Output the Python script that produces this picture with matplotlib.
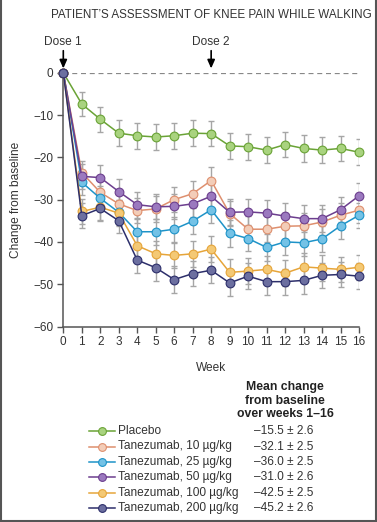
import matplotlib
matplotlib.use("Agg")
import matplotlib.pyplot as plt
from matplotlib.lines import Line2D

plt.rcParams['font.family'] = ['Liberation Sans', 'DejaVu Sans']

weeks = list(range(0, 17))

placebo = [0, -7.4, -11.0, -14.3, -14.9, -15.2, -14.9, -14.3, -14.4, -17.3, -17.5, -18.3, -17.0, -17.9, -18.3, -17.9, -18.8]
tan10 = [0, -23.6, -28.3, -31.0, -32.6, -32.2, -30.0, -28.6, -25.5, -33.3, -37.0, -37.0, -36.3, -36.2, -35.3, -33.7, -32.5]
tan25 = [0, -25.9, -29.7, -33.0, -37.6, -37.6, -37.0, -35.1, -32.4, -38.0, -39.2, -41.3, -40.0, -40.2, -39.3, -36.2, -33.7]
tan50 = [0, -24.5, -24.8, -28.1, -31.2, -31.7, -31.6, -31.0, -29.2, -33.0, -32.9, -33.2, -33.9, -34.5, -34.5, -32.4, -29.1]
tan100 = [0, -32.8, -31.8, -33.2, -40.9, -42.8, -43.2, -42.8, -41.7, -47.2, -46.9, -46.5, -47.4, -45.9, -46.2, -46.5, -46.0]
tan200 = [0, -33.8, -32.1, -35.0, -44.3, -46.1, -48.9, -47.5, -46.7, -49.7, -48.1, -49.4, -49.4, -49.1, -47.9, -47.7, -48.1]

se_placebo = [0, 2.9, 3.0, 3.0, 3.1, 3.0, 3.1, 3.0, 2.9, 3.0, 3.1, 3.1, 3.0, 3.1, 3.1, 3.0, 3.1]
se_tan10 = [0, 2.8, 2.9, 3.0, 3.0, 3.1, 3.0, 3.0, 3.1, 3.0, 3.1, 3.1, 3.1, 3.1, 3.0, 3.0, 3.0]
se_tan25 = [0, 2.9, 3.0, 3.0, 3.1, 3.1, 3.0, 3.0, 3.1, 3.1, 3.0, 3.1, 3.1, 3.1, 3.0, 3.0, 3.0]
se_tan50 = [0, 2.9, 3.0, 3.0, 3.1, 3.0, 3.0, 3.1, 3.0, 3.1, 3.1, 3.1, 3.1, 3.2, 3.2, 3.0, 3.0]
se_tan100 = [0, 2.9, 3.0, 3.0, 3.1, 3.0, 3.0, 3.1, 3.1, 3.1, 3.1, 3.1, 3.1, 3.2, 3.1, 3.0, 3.0]
se_tan200 = [0, 2.9, 3.0, 3.0, 3.1, 3.1, 3.1, 3.0, 3.1, 3.1, 3.1, 3.1, 3.1, 3.2, 3.0, 3.0, 3.0]

labels = ["Placebo", "Tanezumab, 10 \u00b5g/kg", "Tanezumab, 25 \u00b5g/kg",
          "Tanezumab, 50 \u00b5g/kg", "Tanezumab, 100 \u00b5g/kg", "Tanezumab, 200 \u00b5g/kg"]
mean_change = ["\u201315.5 \u00b1 2.6", "\u201332.1 \u00b1 2.5", "\u201336.0 \u00b1 2.5",
               "\u201331.0 \u00b1 2.6", "\u201342.5 \u00b1 2.5", "\u201345.2 \u00b1 2.6"]

series = [placebo, tan10, tan25, tan50, tan100, tan200]
errors = [se_placebo, se_tan10, se_tan25, se_tan50, se_tan100, se_tan200]
line_colors = ["#6aa336", "#de8f6e", "#1e93c8", "#6c3e8e", "#e6a53a", "#2d2f6b"]
face_colors = ["#a9d37f", "#f3cdb8", "#74c2e6", "#9b79bf", "#f4c975", "#6c6fa0"]

W, H = 377, 522
fig = plt.figure(figsize=(W / 100, H / 100), dpi=100)
ax = fig.add_axes([63.3 / W, (H - 326.5) / H, (359 - 63.3) / W, (326.5 - 72.7) / H])

# zero dashed line
ax.plot([0, 16], [0, 0], color="#888888", lw=0.9, ls=(0, (4, 3)), zorder=1)

for i, (ys, es) in enumerate(zip(series, errors)):
    ax.errorbar(weeks[1:], ys[1:], yerr=es[1:], fmt="none", ecolor="#a6a6a6",
                elinewidth=1.0, capsize=2.2, capthick=1.0, zorder=2)
for i, ys in enumerate(series):
    ax.plot(weeks, ys, color=line_colors[i], lw=1.1, marker="o", ms=6.3,
            mfc=face_colors[i], mec=line_colors[i], mew=0.8, zorder=3 + i, clip_on=False)

ax.set_xlim(0, 16)
ax.set_ylim(-60, 0)
ax.set_xticks(range(0, 17))
ax.set_yticks(range(-60, 1, 10))
ax.set_yticklabels(["\u221260", "\u221250", "\u221240", "\u221230", "\u221220", "\u221210", "0"])
for s in ["top", "right"]:
    ax.spines[s].set_visible(False)
for s in ["left", "bottom"]:
    ax.spines[s].set_color("#555555")
    ax.spines[s].set_linewidth(1.1)
ax.tick_params(axis="both", colors="#555555", labelcolor="#333333", labelsize=8.5,
               length=4, width=1.0, pad=3)
ax.set_xlabel("Week", fontsize=8.6, color="#333333", labelpad=10)
ax.set_ylabel("Change from baseline", fontsize=8.6, color="#333333", labelpad=8)

# title
fig.text(211 / W, 1 - 15 / H, "PATIENT\u2019S ASSESSMENT OF KNEE PAIN WHILE WALKING",
         ha="center", va="center", fontsize=8.4, color="#333333")

# dose annotations
for wk, txt in [(0, "Dose 1"), (8, "Dose 2")]:
    ax.annotate("", xy=(wk, 1.0), xytext=(wk, 5.2), xycoords="data", textcoords="data",
                arrowprops=dict(arrowstyle="-|>,head_length=0.5,head_width=0.22",
                                color="black", lw=1.2, shrinkA=0, shrinkB=0),
                annotation_clip=False)
    ax.text(wk, 7.3, txt, ha="center", va="center", fontsize=8.6, color="#333333",
            clip_on=False)

# legend block
fig.text(285 / W, 1 - 400.5 / H, "Mean change\nfrom baseline\nover weeks 1\u201316",
         ha="center", va="center", fontsize=8.8, fontweight="bold", color="#222222",
         linespacing=1.2)
row_y = [431, 446.5, 462, 477.3, 492.7, 508]
for i in range(6):
    yf = 1 - row_y[i] / H
    fig.add_artist(Line2D([89 / W, 115 / W], [yf, yf], color=line_colors[i], lw=1.1,
                          transform=fig.transFigure))
    fig.add_artist(Line2D([102 / W], [yf], color=line_colors[i], marker="o", ms=5.6,
                          mfc=face_colors[i], mec=line_colors[i], mew=0.8,
                          transform=fig.transFigure))
    fig.text(118 / W, yf, labels[i], ha="left", va="center", fontsize=8.6, color="#333333")
    fig.text(284 / W, yf, mean_change[i], ha="center", va="center", fontsize=8.6, color="#333333")

# frame (left, right, bottom)
fc = "#555555"
fig.add_artist(Line2D([1 / W, 1 / W], [0, 1], color=fc, lw=1.5, transform=fig.transFigure))
fig.add_artist(Line2D([376 / W, 376 / W], [0, 1], color=fc, lw=1.5, transform=fig.transFigure))
fig.add_artist(Line2D([0, 1], [1.2 / H, 1.2 / H], color=fc, lw=1.5, transform=fig.transFigure))

fig.savefig("out.png", dpi=100)
